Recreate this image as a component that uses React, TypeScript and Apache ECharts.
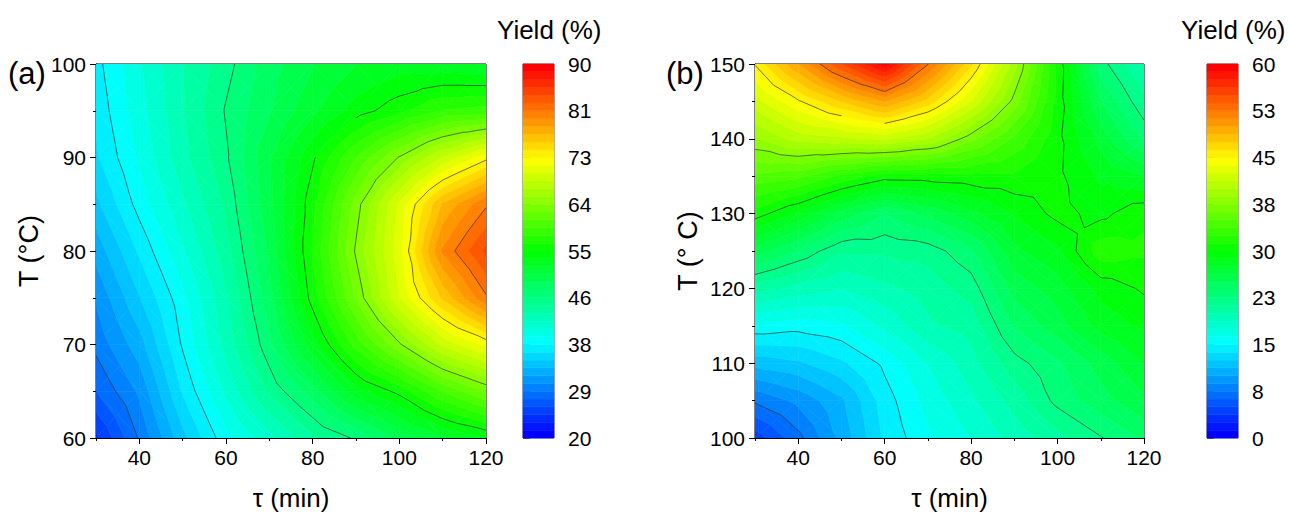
import React, { useEffect, useRef } from "react";
import * as echarts from "echarts";

// ---------------- data ----------------
const TAU = [30, 40, 50, 60, 70, 80, 90, 100, 110, 120];
const T_A = [60, 65, 70, 75, 80, 85, 90, 95, 100];
const T_B = [100, 105, 110, 115, 120, 125, 130, 135, 140, 145, 150];

// rows: temperature ascending, columns: TAU
const YIELD_A = [
  [24.0, 28.9, 34.1, 38.5, 41.4, 44.5, 46.5, 49.5, 51.8, 53.5],
  [27.3, 30.5, 36.2, 40.7, 45.1, 48.5, 53.0, 55.5, 59.5, 62.5],
  [29.2, 32.5, 37.7, 42.4, 47.3, 52.9, 58.5, 63.5, 68.5, 71.5],
  [30.4, 34.5, 38.5, 43.1, 48.6, 55.7, 62.5, 69.6, 75.7, 81.0],
  [32.2, 36.3, 40.2, 44.2, 49.5, 56.6, 64.0, 70.5, 80.0, 84.5],
  [34.2, 38.1, 41.6, 45.1, 50.2, 56.0, 63.0, 69.9, 77.0, 81.0],
  [35.8, 39.2, 42.8, 46.0, 50.4, 54.7, 59.4, 63.9, 68.3, 72.0],
  [36.5, 39.8, 43.2, 46.4, 49.0, 51.7, 54.2, 56.0, 58.0, 58.5],
  [37.0, 40.2, 43.3, 45.7, 48.5, 50.5, 52.0, 52.8, 52.5, 52.0],
];

const YIELD_B = [
  [4.3, 7.1, 10.4, 14.0, 16.0, 17.5, 19.2, 20.8, 22.4, 24.0],
  [7.7, 9.1, 11.0, 14.4, 16.7, 18.5, 20.5, 22.9, 24.5, 26.0],
  [11.7, 12.3, 13.5, 15.3, 17.5, 19.5, 22.0, 23.5, 25.5, 27.5],
  [15.9, 15.5, 16.0, 17.8, 19.8, 20.5, 23.9, 25.7, 28.0, 29.0],
  [20.6, 19.5, 18.8, 19.7, 20.5, 21.8, 25.5, 26.9, 29.2, 30.2],
  [25.7, 23.6, 21.4, 21.5, 21.8, 23.5, 27.2, 28.5, 32.0, 31.5],
  [30.7, 28.5, 25.8, 23.8, 25.3, 27.1, 28.9, 30.4, 29.6, 31.0],
  [34.7, 34.1, 32.2, 30.6, 30.7, 30.9, 31.0, 30.3, 28.5, 27.5],
  [38.6, 40.5, 41.0, 41.5, 40.0, 36.7, 33.5, 30.4, 27.0, 23.5],
  [42.0, 44.8, 47.5, 50.0, 47.0, 42.5, 37.0, 30.8, 25.0, 21.5],
  [45.1, 50.0, 55.0, 59.5, 52.6, 46.5, 39.3, 31.0, 23.0, 20.0],
];

const RANGE_A = [20, 90];
const RANGE_B = [0, 60];
const N_BANDS = 48;
const N_MAJOR = 8;
const X_MAJOR = [40, 60, 80, 100, 120];
const X_MINOR = [30, 50, 70, 90, 110];

// ---------------- helpers ----------------
const FONT = "'Liberation Sans', Arial, sans-serif";

function rainbow(t: number): string {
  t = Math.max(0, Math.min(1, t));
  let r = 0, g = 0, b = 0;
  if (t < 0.25) { r = 0; g = 255 * (t / 0.25); b = 255; }
  else if (t < 0.5) { r = 0; g = 255; b = 255 * (1 - (t - 0.25) / 0.25); }
  else if (t < 0.75) { r = 255 * ((t - 0.5) / 0.25); g = 255; b = 0; }
  else { r = 255; g = 255 * (1 - (t - 0.75) / 0.25); b = 0; }
  return `rgb(${Math.round(r)},${Math.round(g)},${Math.round(b)})`;
}
const bandColor = (k: number) => rainbow(k / (N_BANDS - 1));

function buildCells(xs: number[], ys: number[], z: number[][]) {
  const out: number[][] = [];
  for (let j = 0; j < ys.length - 1; j++) {
    for (let i = 0; i < xs.length - 1; i++) {
      out.push([xs[i], ys[j], xs[i + 1], ys[j + 1], z[j][i], z[j][i + 1], z[j + 1][i], z[j + 1][i + 1]]);
    }
  }
  return out;
}

type V = [number, number, number];

function clip(poly: V[], level: number, keepAbove: boolean): V[] {
  const out: V[] = [];
  const n = poly.length;
  const inside = (p: V) => (keepAbove ? p[2] >= level : p[2] <= level);
  for (let i = 0; i < n; i++) {
    const a = poly[i];
    const b = poly[(i + 1) % n];
    const ia = inside(a), ib = inside(b);
    if (ia) out.push(a);
    if (ia !== ib) {
      const t = (level - a[2]) / (b[2] - a[2]);
      out.push([a[0] + t * (b[0] - a[0]), a[1] + t * (b[1] - a[1]), level]);
    }
  }
  return out;
}

function cellTriangles(api: any): V[][] {
  const x0 = api.value(0), y0 = api.value(1), x1 = api.value(2), y1 = api.value(3);
  const v00 = api.value(4), v10 = api.value(5), v01 = api.value(6), v11 = api.value(7);
  const p00 = api.coord([x0, y0]), p10 = api.coord([x1, y0]);
  const p01 = api.coord([x0, y1]), p11 = api.coord([x1, y1]);
  const A: V = [p00[0], p00[1], v00];
  const B: V = [p10[0], p10[1], v10];
  const C: V = [p11[0], p11[1], v11];
  const D: V = [p01[0], p01[1], v01];
  const M: V = [(A[0] + C[0]) / 2, (A[1] + C[1]) / 2, (v00 + v10 + v01 + v11) / 4];
  return [[A, B, M], [B, C, M], [C, D, M], [D, A, M]];
}

function makeFill(range: number[]) {
  const [lo, hi] = range;
  const step = (hi - lo) / N_BANDS;
  return (_params: any, api: any) => {
    const children: any[] = [];
    for (const tri of cellTriangles(api)) {
      const vs = tri.map((p) => p[2]);
      let k0 = Math.floor((Math.min(...vs) - lo) / step);
      let k1 = Math.floor((Math.max(...vs) - lo) / step);
      k0 = Math.max(0, Math.min(N_BANDS - 1, k0));
      k1 = Math.max(0, Math.min(N_BANDS - 1, k1));
      for (let k = k0; k <= k1; k++) {
        const l = k === 0 ? -1e9 : lo + k * step;
        const h = k === N_BANDS - 1 ? 1e9 : lo + (k + 1) * step;
        let poly = clip(tri, l, true);
        if (poly.length < 3) continue;
        poly = clip(poly, h, false);
        if (poly.length < 3) continue;
        const col = bandColor(k);
        children.push({
          type: "polygon",
          shape: { points: poly.map((p) => [p[0], p[1]]) },
          style: { fill: col, stroke: col, lineWidth: 0.6 },
          silent: true,
        });
      }
    }
    return { type: "group", children };
  };
}

function makeLines(range: number[]) {
  const [lo, hi] = range;
  const levels: number[] = [];
  for (let m = 1; m < N_MAJOR; m++) levels.push(lo + (m * (hi - lo)) / N_MAJOR);
  return (_params: any, api: any) => {
    const children: any[] = [];
    for (const tri of cellTriangles(api)) {
      for (const L of levels) {
        const pts: number[][] = [];
        for (let e = 0; e < 3; e++) {
          const a = tri[e], b = tri[(e + 1) % 3];
          if ((a[2] - L) * (b[2] - L) < 0) {
            const t = (L - a[2]) / (b[2] - a[2]);
            pts.push([a[0] + t * (b[0] - a[0]), a[1] + t * (b[1] - a[1])]);
          }
        }
        if (pts.length === 2) {
          children.push({
            type: "line",
            shape: { x1: pts[0][0], y1: pts[0][1], x2: pts[1][0], y2: pts[1][1] },
            style: { stroke: "#262626", lineWidth: 0.75, opacity: 0.85 },
            silent: true,
          });
        }
      }
    }
    return { type: "group", children };
  };
}

function bands(range: number[]) {
  const [lo, hi] = range;
  const step = (hi - lo) / N_BANDS;
  const out: number[][] = [];
  for (let k = 0; k < N_BANDS; k++) out.push([lo + k * step, lo + (k + 1) * step, k]);
  return out;
}

function majors(range: number[]) {
  const [lo, hi] = range;
  const out: number[] = [];
  for (let m = 0; m <= N_MAJOR; m++) out.push(lo + (m * (hi - lo)) / N_MAJOR);
  return out;
}

const colorbarItem = (_params: any, api: any) => {
  const p0 = api.coord([0, api.value(0)]);
  const p1 = api.coord([1, api.value(1)]);
  const col = bandColor(api.value(2));
  return {
    type: "rect",
    shape: { x: p0[0], y: p1[1], width: p1[0] - p0[0], height: p0[1] - p1[1] },
    style: { fill: col, stroke: col, lineWidth: 0.5 },
    silent: true,
  };
};

// ---------------- component ----------------
export default function App() {
  const ref = useRef<HTMLDivElement>(null);

  useEffect(() => {
    if (!ref.current) return;
    const chart = echarts.init(ref.current, null, { renderer: "svg" });

    const tickLabel = { color: "#000", fontSize: 21, fontFamily: FONT };
    const xNameStyle = { color: "#000", fontSize: 26, fontFamily: FONT };
    const yNameStyle = { color: "#000", fontSize: 27, fontFamily: FONT };
    const blackLine = { color: "#000", width: 1 };

    const mainGrid = (left: number, width: number) => ({
      left, top: 64, width, height: 374, show: true,
      borderColor: "#000", borderWidth: 1, backgroundColor: "transparent",
    });
    const barGrid = (left: number) => ({
      left, top: 64, width: 31, height: 374, show: true,
      borderColor: "#555", borderWidth: 1, backgroundColor: "transparent",
    });

    const xMajor = (gridIndex: number) => ({
      type: "value", gridIndex, min: 30, max: 120, position: "bottom",
      name: "τ (min)", nameLocation: "middle", nameGap: 47, nameTextStyle: xNameStyle,
      axisLine: { show: true, lineStyle: blackLine },
      axisTick: { show: true, length: 6, inside: false, lineStyle: blackLine, customValues: X_MAJOR },
      axisLabel: { ...tickLabel, margin: 9, customValues: X_MAJOR },
      splitLine: { show: false },
    });
    const xMinor = (gridIndex: number) => ({
      type: "value", gridIndex, min: 30, max: 120, position: "bottom",
      axisLine: { show: false },
      axisTick: { show: true, length: 3, inside: false, lineStyle: blackLine, customValues: X_MINOR },
      axisLabel: { show: false },
      splitLine: { show: false },
    });
    const yMain = (gridIndex: number, min: number, max: number, name: string) => ({
      type: "value", gridIndex, min, max, interval: 10, position: "left",
      name, nameLocation: "middle", nameGap: 54, nameTextStyle: yNameStyle,
      axisLine: { show: true, lineStyle: blackLine },
      axisTick: { show: true, length: 6, inside: false, lineStyle: blackLine },
      minorTick: { show: true, splitNumber: 2, length: 3, lineStyle: blackLine },
      axisLabel: { ...tickLabel, margin: 10 },
      splitLine: { show: false },
      minorSplitLine: { show: false },
    });
    const xBar = (gridIndex: number) => ({
      type: "value", gridIndex, min: 0, max: 1, show: false,
    });
    const yBar = (gridIndex: number, range: number[]) => ({
      type: "value", gridIndex, min: range[0], max: range[1], position: "right",
      axisLine: { show: false },
      axisTick: { show: true, length: 7, inside: false, lineStyle: { color: "#555", width: 1 }, customValues: majors(range) },
      axisLabel: {
        ...tickLabel, margin: 14, customValues: majors(range),
        formatter: (v: number) => String(Math.round(v)),
      },
      splitLine: { show: false },
    });

    const cellsA = buildCells(TAU, T_A, YIELD_A);
    const cellsB = buildCells(TAU, T_B, YIELD_B);

    chart.setOption({
      animation: false,
      textStyle: { fontFamily: FONT },
      grid: [mainGrid(96, 390), mainGrid(755, 389), barGrid(523), barGrid(1207)],
      xAxis: [xMajor(0), xMinor(0), xMajor(1), xMinor(1), xBar(2), xBar(3)],
      yAxis: [
        yMain(0, 60, 100, "T (°C)"),
        yMain(1, 100, 150, "T (° C)"),
        yBar(2, RANGE_A),
        yBar(3, RANGE_B),
      ],
      series: [
        { type: "custom", xAxisIndex: 0, yAxisIndex: 0, renderItem: makeFill(RANGE_A), data: cellsA, z: 2, clip: true },
        { type: "custom", xAxisIndex: 0, yAxisIndex: 0, renderItem: makeLines(RANGE_A), data: cellsA, z: 3, clip: true },
        { type: "custom", xAxisIndex: 2, yAxisIndex: 1, renderItem: makeFill(RANGE_B), data: cellsB, z: 2, clip: true },
        { type: "custom", xAxisIndex: 2, yAxisIndex: 1, renderItem: makeLines(RANGE_B), data: cellsB, z: 3, clip: true },
        { type: "custom", xAxisIndex: 4, yAxisIndex: 2, renderItem: colorbarItem, data: bands(RANGE_A), z: 2 },
        { type: "custom", xAxisIndex: 5, yAxisIndex: 3, renderItem: colorbarItem, data: bands(RANGE_B), z: 2 },
      ],
      graphic: [
        { type: "text", left: 8, top: 58, style: { text: "(a)", fontSize: 31, fontFamily: FONT, fill: "#000" } },
        { type: "text", left: 666, top: 58, style: { text: "(b)", fontSize: 31, fontFamily: FONT, fill: "#000" } },
        { type: "text", left: 497, top: 17, style: { text: "Yield (%)", fontSize: 26, fontFamily: FONT, fill: "#000" } },
        { type: "text", left: 1181, top: 17, style: { text: "Yield (%)", fontSize: 26, fontFamily: FONT, fill: "#000" } },
      ],
    });

    return () => chart.dispose();
  }, []);

  return (
    <div
      ref={ref}
      style={{ position: "absolute", left: 0, top: 0, width: 1289, height: 516, background: "#fff" }}
    />
  );
}
